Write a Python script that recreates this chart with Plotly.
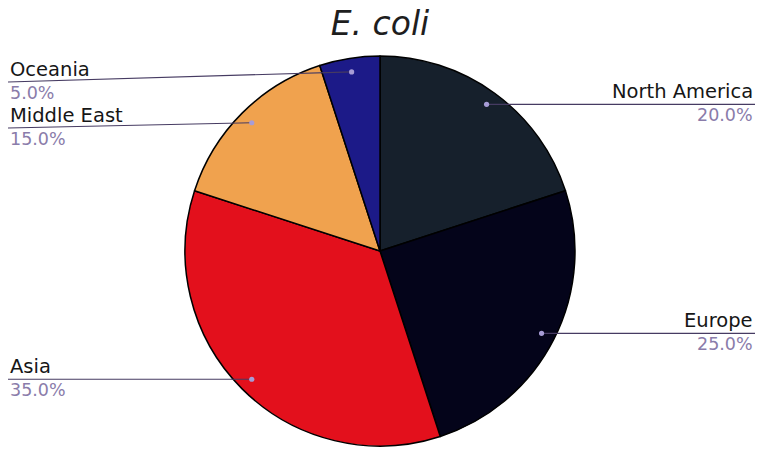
import math
import plotly.graph_objects as go

# Share of E. coli isolates by region
regions = ["North America", "Europe", "Asia", "Middle East", "Oceania"]
shares = [20, 25, 35, 15, 5]
slice_colors = ["#16202c", "#04041a", "#e3101c", "#f0a24e", "#1c1a88"]

W, H = 757, 449
CX, CY, R = 380, 251, 195          # pie centre and radius in pixels
LEFT_X, RIGHT_X = 8, 755           # label edges
DOT_FRAC = 0.93                    # dot position along the radius
TOP_LIMIT, MIN_GAP = 82, 46        # label spacing rules

fig = go.Figure()

fig.add_trace(go.Pie(
    labels=regions,
    values=shares,
    sort=False,
    direction="clockwise",
    rotation=0,
    textinfo="none",
    hoverinfo="label+percent",
    showlegend=False,
    marker=dict(colors=slice_colors, line=dict(color="#000000", width=1.5)),
    domain=dict(x=[(CX - R) / W, (CX + R) / W],
                y=[(H - CY - R) / H, (H - CY + R) / H]),
))

# mid-angle of every slice, measured clockwise from 12 o'clock
total = sum(shares)
acc = 0.0
mids = []
for v in shares:
    mids.append((acc + v / 2) / total * 2 * math.pi)
    acc += v

dots = []
for a in mids:
    dx = DOT_FRAC * R * math.sin(a)
    dy = -DOT_FRAC * R * math.cos(a)
    dots.append((CX + dx, CY + dy))

# label line heights: follow the dot, pushed down to keep labels apart
line_y = [None] * len(regions)
for side in ("left", "right"):
    idx = [i for i, (x, _) in enumerate(dots) if (x < CX) == (side == "left")]
    idx.sort(key=lambda i: dots[i][1])
    prev = None
    for i in idx:
        y = max(dots[i][1], TOP_LIMIT)
        if prev is not None:
            y = max(y, prev + MIN_GAP)
        line_y[i] = y
        prev = y

shapes = []
annotations = []
for i, name in enumerate(regions):
    x0, y0 = dots[i]
    left = x0 < CX
    ex = LEFT_X if left else RIGHT_X
    ly = line_y[i]
    shapes.append(dict(type="line", xref="x", yref="y", x0=ex, y0=ly, x1=x0, y1=y0,
                       line=dict(color="#463b62", width=1.2), layer="above"))
    shapes.append(dict(type="circle", xref="x", yref="y",
                       x0=x0 - 2.6, x1=x0 + 2.6, y0=y0 - 2.6, y1=y0 + 2.6,
                       fillcolor="#a79cd6", line=dict(width=0), layer="above"))
    pct = shares[i] / total * 100
    anchor = "left" if left else "right"
    annotations.append(dict(x=ex, y=ly + 1, xref="x", yref="y", text=name,
                            showarrow=False, xanchor=anchor, yanchor="bottom",
                            font=dict(family="DejaVu Sans", size=19.5, color="#161616")))
    annotations.append(dict(x=ex, y=ly - 1.5, xref="x", yref="y", text=f"{pct:.1f}%",
                            showarrow=False, xanchor=anchor, yanchor="top",
                            font=dict(family="DejaVu Sans", size=17.5, color="#8a7caa")))

fig.update_layout(
    width=W, height=H,
    margin=dict(l=0, r=0, t=0, b=0),
    paper_bgcolor="#ffffff",
    plot_bgcolor="rgba(0,0,0,0)",
    title=dict(text="E. coli", x=CX / W, xanchor="center", y=1 - 23 / H, yanchor="middle",
               font=dict(family="DejaVu Sans", size=33, color="#1e1e1e", style="italic")),
    xaxis=dict(range=[0, W], visible=False, fixedrange=True),
    yaxis=dict(range=[H, 0], visible=False, fixedrange=True),
    shapes=shapes,
    annotations=annotations,
)

fig.write_html("out.html")
